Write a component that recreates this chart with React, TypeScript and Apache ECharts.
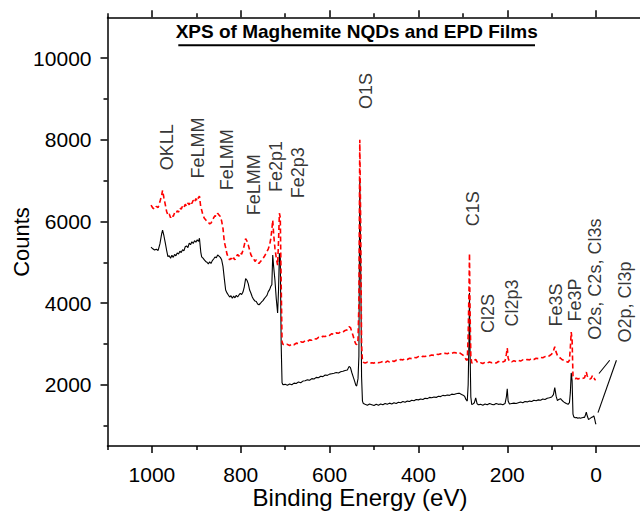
import React, { useEffect, useRef } from "react";
import * as echarts from "echarts";

// Binding energy (eV) sample positions, shared by both spectra
const energy = [
  1002, 998, 994, 990, 986, 982, 978, 976, 973, 970, 967, 964, 961, 958, 955, 952, 949, 946, 943, 940,
  937, 934, 931, 928, 925, 922, 919, 916, 913, 910, 907, 904, 901, 898, 895, 893, 890, 888, 885, 882,
  879, 876, 873, 870, 867, 864, 861, 858, 855, 852, 849, 846, 843, 840, 837, 834, 831, 828, 825, 822,
  819, 816, 813, 810, 807, 804, 801, 798, 795, 792, 789, 786, 783, 780, 777, 774, 771, 768, 765, 762,
  759, 756, 753, 750, 747, 744, 741, 738, 735, 732, 730, 728, 726, 723, 720, 717, 715, 713, 711, 709,
  707, 705, 700, 695, 690, 685, 680, 675, 670, 665, 660, 655, 650, 645, 640, 635, 630, 625, 620, 615,
  610, 605, 600, 595, 590, 585, 580, 575, 570, 565, 560, 556, 553, 550, 547, 544, 541, 539, 536, 534,
  532, 530, 528, 526, 524, 520, 515, 510, 505, 500, 495, 490, 485, 480, 475, 470, 465, 460, 455, 450,
  445, 440, 435, 430, 425, 420, 415, 410, 405, 400, 395, 390, 385, 380, 375, 370, 365, 360, 355, 350,
  345, 340, 335, 330, 325, 320, 315, 310, 307, 303, 299, 296, 293, 290, 288, 286, 285, 284, 282, 280,
  277, 274, 271, 268, 265, 260, 255, 250, 245, 240, 235, 230, 225, 220, 215, 210, 205, 202, 200, 198,
  195, 190, 185, 180, 175, 170, 165, 160, 155, 150, 145, 140, 135, 130, 125, 120, 115, 110, 105, 100,
  96, 93, 90, 87, 84, 80, 77, 73, 70, 67, 63, 60, 58, 56, 54, 52, 50, 47, 44, 41,
  38, 35, 32, 29, 26, 24, 22, 20, 17, 14, 11, 8, 5, 3, 1, 0,
];

// Counts of the lower (black, solid) spectrum
const blackCounts = [
  5370, 5330, 5300, 5320, 5290, 5450, 5700, 5790, 5650, 5480, 5300, 5140, 5160, 5100, 5170, 5120, 5190, 5160, 5230, 5200,
  5270, 5240, 5310, 5280, 5380, 5400, 5360, 5470, 5430, 5500, 5460, 5530, 5490, 5550, 5510, 5590, 5250, 5130, 5100, 5060,
  5020, 5000, 4960, 5010, 4970, 5040, 5080, 5130, 5110, 5180, 5150, 5120, 5060, 4900, 4600, 4320, 4250, 4200, 4150, 4180,
  4120, 4170, 4130, 4190, 4150, 4200, 4240, 4210, 4270, 4400, 4600, 4560, 4470, 4320, 4240, 4150, 4090, 4050, 4040, 3980,
  3960, 3990, 4030, 4060, 4110, 4150, 4190, 4280, 4330, 4420, 4450, 5180, 4900, 4560, 4100, 3760, 4300, 5220, 5100, 3000,
  2050, 2000, 2010, 1990, 2020, 2000, 2040, 2030, 2070, 2050, 2090, 2100, 2120, 2110, 2150, 2140, 2180, 2170, 2210, 2200,
  2240, 2230, 2260, 2270, 2280, 2300, 2290, 2320, 2330, 2350, 2360, 2450, 2420, 2300, 2200, 2100, 1990, 1970, 2150, 2700,
  7050, 5000, 2200, 1600, 1540, 1520, 1500, 1530, 1510, 1490, 1520, 1500, 1530, 1510, 1540, 1520, 1550, 1530, 1560, 1540,
  1570, 1560, 1590, 1570, 1600, 1590, 1620, 1610, 1640, 1630, 1650, 1640, 1670, 1660, 1690, 1680, 1700, 1690, 1720, 1710,
  1740, 1730, 1750, 1740, 1770, 1760, 1780, 1790, 1790, 1760, 1740, 1720, 1640, 1600, 2000, 3200, 4250, 3000, 1700, 1520,
  1530, 1560, 1680, 1540, 1510, 1520, 1500, 1530, 1510, 1540, 1520, 1510, 1540, 1520, 1530, 1510, 1540, 1700, 1900, 1600,
  1530, 1540, 1550, 1540, 1560, 1580, 1560, 1590, 1580, 1600, 1590, 1620, 1610, 1630, 1620, 1650, 1640, 1670, 1680, 1700,
  1760, 1930, 1720, 1610, 1640, 1660, 1620, 1580, 1560, 1540, 1520, 1560, 1800, 2290, 2100, 1280, 1210, 1190, 1200, 1180,
  1190, 1180, 1190, 1200, 1200, 1260, 1330, 1240, 1150, 1170, 1195, 1210, 1240, 1150, 1050, 1030,
];

// Counts of the upper (red, dashed) spectrum
const redCounts = [
  6400, 6330, 6300, 6370, 6340, 6480, 6650, 6760, 6580, 6420, 6250, 6150, 6180, 6090, 6160, 6120, 6210, 6190, 6260, 6230,
  6330, 6300, 6380, 6340, 6420, 6370, 6450, 6410, 6490, 6440, 6520, 6470, 6560, 6500, 6590, 6620, 6350, 6280, 6150, 6080,
  6040, 6000, 5980, 5940, 5960, 6020, 6090, 6140, 6120, 6200, 6160, 6120, 6010, 5830, 5500, 5360, 5200, 5120, 5060, 5100,
  5040, 5110, 5060, 5140, 5190, 5150, 5230, 5200, 5290, 5420, 5580, 5520, 5420, 5300, 5180, 5120, 5090, 5020, 5060, 5000,
  4970, 5010, 5050, 5090, 5140, 5200, 5260, 5330, 5420, 5600, 5800, 6030, 5700, 5340, 5100, 4930, 5500, 6200, 6100, 4500,
  3050, 2990, 2970, 2990, 2960, 3000, 2980, 3020, 3010, 3050, 3040, 3080, 3060, 3100, 3090, 3130, 3120, 3160, 3150, 3190,
  3180, 3220, 3210, 3250, 3230, 3270, 3260, 3300, 3290, 3330, 3350, 3420, 3400, 3300, 3200, 3080, 3000, 2980, 3100, 4000,
  8000, 6000, 3000, 2580, 2550, 2530, 2550, 2520, 2540, 2530, 2560, 2540, 2550, 2570, 2540, 2580, 2560, 2590, 2570, 2600,
  2590, 2620, 2610, 2640, 2620, 2650, 2640, 2670, 2660, 2690, 2670, 2700, 2690, 2720, 2710, 2730, 2720, 2750, 2740, 2760,
  2750, 2770, 2760, 2780, 2770, 2790, 2780, 2800, 2780, 2750, 2720, 2690, 2620, 2600, 3200, 4400, 5220, 4000, 2700, 2530,
  2560, 2600, 2620, 2560, 2530, 2540, 2520, 2550, 2530, 2560, 2540, 2550, 2530, 2570, 2550, 2560, 2580, 2750, 2900, 2650,
  2570, 2560, 2590, 2570, 2600, 2580, 2610, 2600, 2620, 2610, 2640, 2620, 2650, 2640, 2670, 2660, 2690, 2680, 2710, 2750,
  2830, 2930, 2800, 2720, 2680, 2650, 2620, 2600, 2580, 2570, 2550, 2600, 2900, 3290, 3100, 2210, 2170, 2150, 2160, 2140,
  2150, 2140, 2150, 2160, 2170, 2240, 2310, 2220, 2150, 2140, 2160, 2230, 2180, 2130, 2110, 2110,
];

// Peak annotations: label, energy (eV) and count where the rotated text starts
const annoLabels = [
  "OKLL", "FeLMM", "FeLMM", "FeLMM", "Fe2p1", "Fe2p3", "O1S", "C1S", "Cl2S", "Cl2p3",
  "Fe3S", "Fe3P", "O2s, C2s, Cl3s", "O2p, Cl3p",
];
const annoEnergy = [966, 896, 830, 771, 720, 671, 519, 277, 244, 189, 90, 48, 2, -64];
const annoCounts = [7251, 7049, 6763, 6154, 6722, 6568, 8756, 5885, 3268, 3429, 3429, 3551, 3105, 3032];

// Leader lines from the last labels to the spectra: [energy, counts] pairs
const leaderToRed = [[-30.7, 2600], [-6.5, 2276]];
const leaderToBlack = [[-45.8, 2600], [-4.3, 1317]];

// Axis ticks
const xMajor = [0, 200, 400, 600, 800, 1000];
const xMinor = [100, 300, 500, 700, 900, 1100];
const yMajor = [2000, 4000, 6000, 8000, 10000];
const yMinor = [1000, 3000, 5000, 7000, 9000];

const FONT = "'Liberation Sans', Arial, Helvetica, sans-serif";

export default function App() {
  const ref = useRef<HTMLDivElement>(null);

  useEffect(() => {
    if (!ref.current) return;
    const chart = echarts.init(ref.current, undefined, { renderer: "svg" });

    const black = energy.map((e, i) => [e, blackCounts[i]]);
    const red = energy.map((e, i) => [e, redCounts[i]]);
    const annos = annoLabels.map((t, i) => ({ name: t, value: [annoEnergy[i], annoCounts[i]] }));

    const axisLine = { show: true, onZero: false, lineStyle: { color: "#000", width: 1.5 } };
    const noLine = { show: false, onZero: false };
    const plain = (v: number) => String(v);
    const xBase = {
      type: "value" as const,
      min: -100,
      max: 1100,
      inverse: true,
      splitLine: { show: false },
    };
    const yBase = {
      type: "value" as const,
      min: 500,
      max: 11000,
      splitLine: { show: false },
    };

    chart.setOption({
      animation: false,
      backgroundColor: "#fff",
      textStyle: { fontFamily: FONT },
      grid: { left: 107.5, top: 17.3, width: 533, height: 428.7, containLabel: false, outerBoundsMode: "none" },
      xAxis: [
        {
          ...xBase,
          position: "bottom",
          axisLine,
          axisTick: { show: true, customValues: xMajor, length: 7, lineStyle: { color: "#000", width: 1.5 } },
          axisLabel: {
            show: true, customValues: xMajor, formatter: plain, fontSize: 21, lineHeight: 18,
            color: "#000", margin: 19, fontFamily: FONT,
          },
          name: "Binding Energy (eV)",
          nameLocation: "middle",
          nameGap: 40,
          nameMoveOverlap: false,
          nameTextStyle: { fontSize: 24, lineHeight: 22, color: "#000", fontFamily: FONT, padding: [0, 28, 0, 0] },
        },
        {
          ...xBase,
          position: "bottom",
          axisLine: noLine,
          axisTick: { show: true, customValues: xMinor, length: 4, lineStyle: { color: "#000", width: 1.5 } },
          axisLabel: { show: false },
        },
        {
          ...xBase,
          position: "top",
          axisLine,
          axisTick: { show: true, customValues: xMajor, length: 7, lineStyle: { color: "#000", width: 1.5 } },
          axisLabel: { show: false },
        },
        {
          ...xBase,
          position: "top",
          axisLine: noLine,
          axisTick: { show: true, customValues: xMinor, length: 4, lineStyle: { color: "#000", width: 1.5 } },
          axisLabel: { show: false },
        },
      ],
      yAxis: [
        {
          ...yBase,
          position: "left",
          axisLine,
          axisTick: { show: true, customValues: yMajor, length: 7, lineStyle: { color: "#000", width: 1.5 } },
          axisLabel: { show: true, customValues: yMajor, formatter: plain, fontSize: 21, color: "#000", margin: 16, fontFamily: FONT },
        },
        {
          ...yBase,
          position: "left",
          axisLine: noLine,
          axisTick: { show: true, customValues: yMinor, length: 4, lineStyle: { color: "#000", width: 1.5 } },
          axisLabel: { show: false },
        },
      ],
      graphic: [
        {
          type: "text",
          x: 356.7,
          y: 31.6,
          style: {
            text: "XPS of Maghemite NQDs and EPD Films",
            font: `bold 19px ${FONT}`,
            fill: "#000",
            textAlign: "center",
            textVerticalAlign: "middle",
          },
        },
        {
          type: "line",
          shape: { x1: 178.3, y1: 45.3, x2: 535, y2: 45.3 },
          style: { stroke: "#000", lineWidth: 2 },
        },
        {
          type: "text",
          x: 21,
          y: 242,
          rotation: Math.PI / 2,
          style: {
            text: "Counts",
            font: `22px ${FONT}`,
            fill: "#000",
            textAlign: "center",
            textVerticalAlign: "middle",
          },
        },
      ],
      series: [
        {
          name: "black",
          type: "line",
          data: black,
          showSymbol: false,
          symbol: "none",
          lineStyle: { color: "#000", width: 1.1 },
          z: 2,
        },
        {
          name: "red",
          type: "line",
          data: red,
          showSymbol: false,
          symbol: "none",
          lineStyle: { color: "#ff0000", width: 1.6, type: [5, 3] },
          z: 3,
        },
        {
          name: "leaderRed",
          type: "line",
          data: leaderToRed,
          showSymbol: false,
          symbol: "none",
          lineStyle: { color: "#000", width: 1.1 },
          z: 4,
        },
        {
          name: "leaderBlack",
          type: "line",
          data: leaderToBlack,
          showSymbol: false,
          symbol: "none",
          lineStyle: { color: "#000", width: 1.1 },
          z: 4,
        },
        {
          name: "annotations",
          type: "scatter",
          data: annos,
          symbolSize: 0,
          silent: true,
          z: 5,
          label: {
            show: true,
            formatter: "{b}",
            position: "inside",
            rotate: 90,
            align: "left",
            verticalAlign: "middle",
            fontSize: 18,
            color: "#000",
            fontFamily: FONT,
          },
        },
      ],
    });

    return () => chart.dispose();
  }, []);

  return (
    <div
      ref={ref}
      style={{ position: "absolute", left: 0, top: 0, width: 640, height: 513, background: "#fff" }}
    />
  );
}
